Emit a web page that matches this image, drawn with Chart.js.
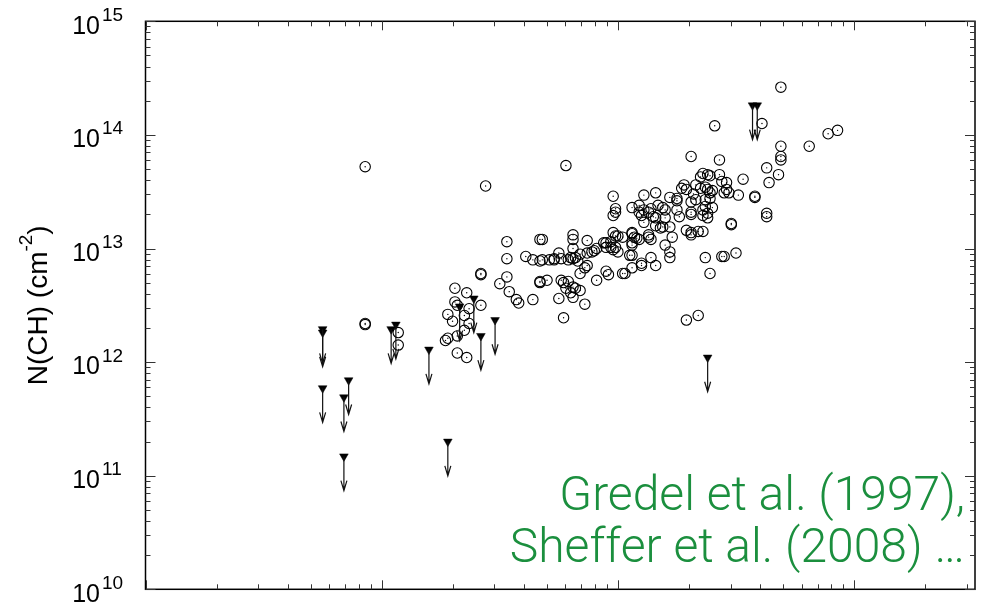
<!DOCTYPE html>
<html>
<head>
<meta charset="utf-8">
<script src="https://cdn.jsdelivr.net/npm/chart.js@4.4.1/dist/chart.umd.min.js"></script>
<style>
  html, body { margin: 0; padding: 0; background: #fff; overflow: hidden; }
  #wrap { width: 989px; height: 640px; }
</style>
</head>
<body>
<div id="wrap"><canvas id="chart" width="989" height="640"></canvas></div>
<script>
// Detections: log10 N(H2) and log10 N(CH), cm^-2
const logNH2 = [
  18.93, 18.93, 18.93, 19.44, 19.78, 20.69, 20.41, 20.61, 20.93, 20.89,
  20.81, 20.69, 20.69, 20.69, 20.31, 20.43, 20.63, 20.68, 20.64, 20.53,
  20.58, 20.58, 20.63, 20.63, 20.48, 20.48, 20.50, 20.45, 20.37, 20.39,
  20.34, 20.29, 20.36, 20.38, 20.39, 20.35, 20.43, 20.44, 20.46, 20.28,
  20.27, 20.29, 20.33, 20.35, 20.37, 20.38, 20.39, 20.39, 20.32, 20.33,
  20.31, 20.37, 20.37, 20.36, 20.38, 20.40, 20.31, 20.31, 20.46, 20.47,
  20.45, 20.51, 20.36, 20.38, 20.36, 20.40, 20.25, 20.25, 20.22, 20.17,
  20.19, 20.20, 20.16, 20.11, 20.09, 20.11, 20.06, 20.14, 20.13, 20.09,
  20.25, 20.26, 20.20, 20.11, 20.15, 20.16, 20.19, 20.22, 20.18, 20.29,
  20.31, 20.34, 20.31, 20.23, 20.06, 20.07, 20.13, 20.14, 20.08, 20.02,
  20.20, 20.22, 20.06, 20.05, 20.06, 20.14, 20.22, 20.16, 20.10, 20.06,
  20.03, 20.44, 20.16, 19.98, 19.99, 19.99, 19.98, 20.10, 19.68, 19.81,
  19.81, 19.87, 19.81, 19.95, 19.97, 19.99, 20.00, 19.99, 20.00, 19.97,
  19.98, 20.06, 20.06, 20.09, 20.13, 19.91, 19.89, 19.87, 19.84, 19.82,
  19.81, 19.79, 19.75, 19.76, 19.73, 19.71, 19.68, 19.83, 19.87, 19.86,
  19.84, 19.95, 19.96, 20.02, 20.10, 19.91, 19.70, 19.67, 19.76, 19.77,
  19.79, 19.81, 19.82, 19.84, 19.78, 19.80, 19.75, 19.81, 19.86, 19.77,
  19.94, 19.95, 19.98, 19.90, 19.53, 19.67, 19.53, 19.61, 19.64, 19.67,
  19.73, 19.42, 19.42, 19.53, 19.50, 19.67, 19.54, 19.57, 19.58, 19.64,
  19.42, 19.80, 19.31, 19.36, 19.31, 19.32, 19.37, 19.35, 19.28, 19.30,
  19.37, 19.35, 19.32, 19.28, 19.27, 19.32, 19.36, 19.07, 19.07
];
const logNCH = [
  13.72, 12.34, 12.33, 13.55, 13.73, 14.42, 14.08, 14.10, 14.04, 14.01,
  13.90, 13.90, 13.81, 13.78, 13.81, 13.78, 13.71, 13.65, 13.58, 13.61,
  13.45, 13.46, 13.31, 13.28, 13.22, 13.21, 12.96, 12.93, 12.92, 12.78,
  12.41, 12.37, 13.66, 13.65, 13.64, 13.63, 13.65, 13.59, 13.58, 13.56,
  13.53, 13.52, 13.56, 13.53, 13.54, 13.52, 13.49, 13.44, 13.48, 13.43,
  13.41, 13.43, 13.37, 13.34, 13.31, 13.36, 13.32, 13.30, 13.52, 13.49,
  13.49, 13.47, 13.29, 13.27, 13.15, 13.51, 13.42, 13.44, 13.45, 13.38,
  13.36, 13.34, 13.49, 13.47, 13.38, 13.34, 13.36, 13.35, 13.32, 13.32,
  13.34, 13.28, 13.27, 13.23, 13.28, 13.20, 13.19, 13.19, 13.18, 13.16,
  13.14, 13.15, 13.12, 13.10, 13.14, 13.10, 13.10, 13.08, 13.09, 13.10,
  13.03, 12.97, 13.03, 12.94, 12.94, 12.92, 12.92, 12.85, 12.85, 12.83,
  12.78, 12.93, 13.27, 13.46, 13.35, 13.32, 13.29, 13.29, 13.08, 13.12,
  13.08, 13.07, 13.00, 13.05, 13.06, 13.11, 13.11, 13.01, 12.97, 13.01,
  12.99, 13.13, 13.05, 13.08, 13.12, 13.00, 12.97, 12.96, 12.95, 12.92,
  12.91, 12.90, 12.96, 12.91, 12.90, 12.90, 12.90, 12.89, 12.85, 12.83,
  12.78, 12.80, 12.77, 12.78, 12.87, 12.72, 12.72, 12.71, 12.72, 12.70,
  12.71, 12.66, 12.65, 12.63, 12.65, 12.61, 12.56, 12.57, 12.51, 12.39,
  13.05, 13.01, 13.14, 12.98, 13.06, 13.08, 12.91, 12.93, 12.90, 12.89,
  12.91, 12.78, 12.77, 12.75, 12.69, 12.70, 12.62, 12.55, 12.52, 12.55,
  12.50, 12.92, 12.65, 12.61, 12.53, 12.50, 12.47, 12.41, 12.42, 12.36,
  12.34, 12.28, 12.23, 12.21, 12.19, 12.08, 12.04, 12.26, 12.15
];

// Upper limits on N(CH)
const limLogNH2 = [18.75, 18.75, 18.86, 18.75, 18.84, 18.84, 19.04, 19.06, 19.20,
                   19.28, 19.48, 19.42, 19.39, 19.33, 20.38, 20.57, 20.59];
const limLogNCH = [12.29, 12.26, 11.84, 11.77, 11.69, 11.17, 12.29, 12.33, 12.11,
                   11.30, 12.37, 12.23, 12.56, 12.49, 12.04, 14.26, 14.26];

// Axis extents and labelled decades
const xLimits = [1e18, 3.25e21];
const yDecades = [10, 11, 12, 13, 14, 15];
const yTitle = ['N(CH) (cm', '-2', ')'];
const noteLines = ['Gredel et al. (1997),', 'Sheffer et al. (2008) \u2026'];

const detections = logNH2.map((lx, i) => ({ x: 10 ** lx, y: 10 ** logNCH[i] }));
const limits = limLogNH2.map((lx, i) => ({ x: 10 ** lx, y: 10 ** limLogNCH[i] }));

const SANS = '"Liberation Sans", Arial, Helvetica, sans-serif';

const decor = {
  id: 'decor',
  afterDatasetsDraw(chart) {
    const { ctx, chartArea: a, scales: { x, y } } = chart;
    ctx.save();

    // frame
    ctx.strokeStyle = '#000';
    ctx.lineWidth = 1.5;
    ctx.strokeRect(a.left, a.top, a.right - a.left, a.bottom - a.top);

    // inward ticks
    ctx.strokeStyle = '#333';
    ctx.lineWidth = 1;
    ctx.beginPath();
    for (let e = 10; e <= 15; e++) {
      for (let m = 1; m <= 9; m++) {
        const v = m * 10 ** e;
        if (v > 1e15 * 1.0001) break;
        const py = Math.round(y.getPixelForValue(v)) + 0.5;
        const len = m === 1 ? 10 : 5;
        ctx.moveTo(a.left, py); ctx.lineTo(a.left + len, py);
        ctx.moveTo(a.right, py); ctx.lineTo(a.right - len, py);
      }
    }
    for (let e = 18; e <= 21; e++) {
      for (let m = 1; m <= 9; m++) {
        const v = m * 10 ** e;
        if (v > xLimits[1]) break;
        const px = Math.round(x.getPixelForValue(v)) + 0.5;
        const len = m === 1 ? 9 : 5;
        ctx.moveTo(px, a.bottom); ctx.lineTo(px, a.bottom - len);
        ctx.moveTo(px, a.top); ctx.lineTo(px, a.top + len);
      }
    }
    ctx.stroke();

    // arrows for the upper limits (down to half the limit)
    const meta = chart.getDatasetMeta(2);
    ctx.strokeStyle = '#111';
    ctx.lineWidth = 1.2;
    meta.data.forEach((pt, i) => {
      const px = pt.x;
      const top = pt.y;
      const tip = y.getPixelForValue(limits[i].y / 2);
      ctx.beginPath();
      ctx.moveTo(px, top);
      ctx.lineTo(px, tip);
      ctx.moveTo(px - 3, tip - 10);
      ctx.lineTo(px, tip);
      ctx.lineTo(px + 3, tip - 10);
      ctx.stroke();
    });

    // y tick labels as 10^n
    ctx.fillStyle = '#000';
    yDecades.forEach(e => {
      const py = y.getPixelForValue(10 ** e);
      ctx.font = '25px ' + SANS;
      ctx.textAlign = 'right';
      ctx.textBaseline = 'alphabetic';
      ctx.fillText('10', 100, py + 12.3);
      ctx.font = '19px ' + SANS;
      ctx.textAlign = 'left';
      ctx.fillText(String(e), 102, py - 0.5);
    });

    // y axis title, rotated
    ctx.save();
    ctx.translate(47, (a.top + a.bottom) / 2);
    ctx.rotate(-Math.PI / 2);
    ctx.textAlign = 'left';
    const f1 = '28px ' + SANS, f2 = '19px ' + SANS;
    ctx.font = f1; const w1 = ctx.measureText(yTitle[0]).width;
    const w3 = ctx.measureText(yTitle[2]).width;
    ctx.font = f2; const w2 = ctx.measureText(yTitle[1]).width;
    let sx = -(w1 + w2 + w3) / 2;
    ctx.font = f1; ctx.fillText(yTitle[0], sx, 0); sx += w1;
    ctx.font = f2; ctx.fillText(yTitle[1], sx, -15); sx += w2;
    ctx.font = f1; ctx.fillText(yTitle[2], sx, 0);
    ctx.restore();

    // reference note
    ctx.fillStyle = '#1b8f3e';
    ctx.font = '300 48px Roboto, ' + SANS;
    ctx.textAlign = 'right';
    ctx.fillText(noteLines[0], 965, 510);
    ctx.fillText(noteLines[1], 965, 562);

    ctx.restore();
  }
};

new Chart(document.getElementById('chart'), {
  type: 'scatter',
  data: {
    datasets: [
      {
        label: 'detections',
        data: detections,
        pointStyle: 'circle',
        pointRadius: 5.2,
        pointBorderWidth: 1.1,
        pointBorderColor: '#000',
        pointBackgroundColor: 'rgba(0,0,0,0)'
      },
      {
        label: 'centres',
        data: detections,
        pointStyle: 'circle',
        pointRadius: 0.7,
        pointBorderWidth: 0,
        pointBackgroundColor: '#000'
      },
      {
        label: 'upper limits',
        data: limits,
        pointStyle: 'triangle',
        rotation: 180,
        pointRadius: 5,
        pointBorderWidth: 0.5,
        pointBorderColor: '#000',
        pointBackgroundColor: '#000'
      }
    ]
  },
  options: {
    responsive: false,
    animation: false,
    events: [],
    layout: { padding: { left: 145.5, right: 14, top: 21.3, bottom: 50.7 } },
    plugins: { legend: { display: false }, tooltip: { enabled: false } },
    scales: {
      x: { type: 'logarithmic', display: false, min: xLimits[0], max: xLimits[1] },
      y: { type: 'logarithmic', display: false, min: 1e10, max: 1e15 }
    }
  },
  plugins: [decor]
});
</script>
</body>
</html>
